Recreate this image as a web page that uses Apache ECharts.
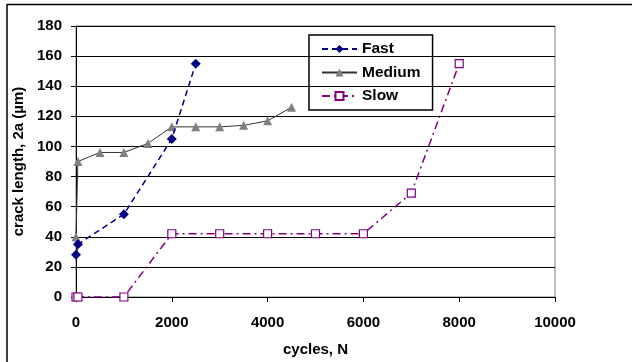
<!DOCTYPE html>
<html>
<head>
<meta charset="utf-8">
<script src="https://cdn.jsdelivr.net/npm/echarts@6/dist/echarts.min.js"></script>
<style>
html, body { margin: 0; padding: 0; background: #fff; }
#chart { width: 632px; height: 362px; }
</style>
</head>
<body>
<div id="chart"></div>
<script>
// crack length (um) vs cycles, three growth rates
var fastCycles = [0, 40, 1000, 2000, 2500];
var fastLength = [28, 35, 55, 105, 155];

var mediumCycles = [0, 40, 500, 1000, 1500, 2000, 2500, 3000, 3500, 4000, 4500];
var mediumLength = [40, 90, 96, 96, 102, 113, 113, 113, 114, 117, 126];

var slowCycles = [0, 40, 1000, 2000, 3000, 4000, 5000, 6000, 7000, 8000];
var slowLength = [0, 0, 0, 42, 42, 42, 42, 42, 69, 155];

var xTicks = [0, 2000, 4000, 6000, 8000, 10000];
var yTicks = [0, 20, 40, 60, 80, 100, 120, 140, 160, 180];

function pairs(xs, ys) {
  return xs.map(function (x, i) { return [x, ys[i]]; });
}

var font = 'Arial, "Liberation Sans", sans-serif';
var chart = echarts.init(document.getElementById('chart'));

chart.setOption({
  animation: false,
  backgroundColor: '#fff',
  grid: {
    left: 76, right: 77, top: 26, bottom: 64,
    show: true, borderColor: '#808080', borderWidth: 1
  },
  legend: {
    orient: 'vertical',
    left: 309, top: 35,
    width: 122,
    borderColor: '#000', borderWidth: 1.5,
    padding: [6, 12, 6, 12],
    itemGap: 7.5,
    itemWidth: 35, itemHeight: 10,
    textStyle: { fontFamily: font, fontWeight: 'bold', fontSize: 15.5, color: '#000' },
    data: ['Fast', 'Medium', 'Slow']
  },
  xAxis: {
    type: 'value',
    min: 0, max: xTicks[xTicks.length - 1], interval: 2000,
    name: 'cycles, N',
    nameLocation: 'middle', nameGap: 45,
    nameTextStyle: { fontFamily: font, fontWeight: 'bold', fontSize: 15, color: '#000' },
    axisLine: { show: true, lineStyle: { color: '#000', width: 1 } },
    axisTick: { show: true, inside: false, length: 5, lineStyle: { color: '#000' } },
    axisLabel: {
      margin: 18, fontFamily: font, fontWeight: 'bold', fontSize: 15, color: '#000',
      formatter: function (v) { return xTicks.indexOf(v) >= 0 ? String(v) : ''; }
    },
    splitLine: { show: false }
  },
  yAxis: {
    type: 'value',
    min: 0, max: yTicks[yTicks.length - 1], interval: 20,
    name: 'crack length, 2a (\u00b5m)',
    nameLocation: 'middle', nameGap: 42, nameRotate: 90,
    nameTextStyle: { fontFamily: font, fontWeight: 'bold', fontSize: 15, color: '#000' },
    axisLine: { show: true, lineStyle: { color: '#000', width: 1 } },
    axisTick: { show: true, inside: false, length: 5, lineStyle: { color: '#000' } },
    axisLabel: {
      margin: 14, fontFamily: font, fontWeight: 'bold', fontSize: 15, color: '#000',
      formatter: function (v) { return yTicks.indexOf(v) >= 0 ? String(v) : ''; }
    },
    splitLine: { show: true, lineStyle: { color: '#000', width: 1 } }
  },
  series: [
    {
      name: 'Fast', type: 'line',
      data: pairs(fastCycles, fastLength),
      symbol: 'diamond', symbolSize: 10,
      itemStyle: { color: '#000080' },
      lineStyle: { color: '#000080', width: 1.5, type: [6, 4] },
      z: 4
    },
    {
      name: 'Medium', type: 'line',
      data: pairs(mediumCycles, mediumLength),
      symbol: 'triangle', symbolSize: 9,
      itemStyle: { color: '#808080' },
      lineStyle: { color: '#333333', width: 1 },
      z: 3
    },
    {
      name: 'Slow', type: 'line',
      data: pairs(slowCycles, slowLength),
      symbol: 'rect', symbolSize: 8,
      itemStyle: { color: '#fff', borderColor: '#800080', borderWidth: 1.2 },
      lineStyle: { color: '#800080', width: 1.5, type: [8, 4, 2, 4] },
      z: 2
    }
  ],
  graphic: [
    { type: 'line', shape: { x1: 7, y1: 4.5, x2: 632, y2: 4.5 }, style: { stroke: '#000', lineWidth: 1.5 } },
    { type: 'line', shape: { x1: 7, y1: 4, x2: 7, y2: 362 }, style: { stroke: '#000', lineWidth: 1.5 } }
  ]
});
</script>
</body>
</html>
